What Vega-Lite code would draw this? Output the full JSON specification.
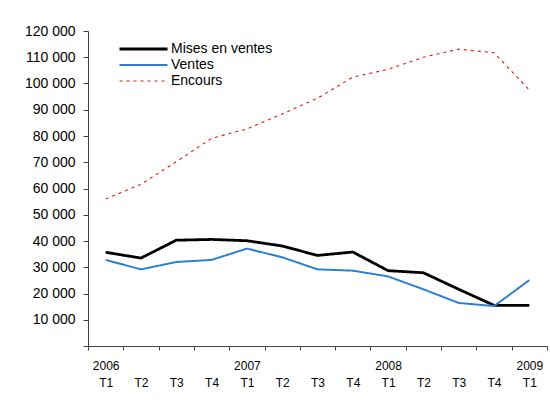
{
  "$schema": "https://vega.github.io/schema/vega-lite/v6.json",
  "width": 459,
  "height": 315,
  "autosize": {"type": "none"},
  "padding": {"left": 88, "top": 31, "right": 3, "bottom": 66},
  "background": "white",
  "config": {
    "view": {"stroke": null},
    "font": "Liberation Sans",
    "axis": {"grid": false, "domainColor": "#444", "tickColor": "#444", "labelColor": "black", "labelFont": "Liberation Sans"},
    "legend": {"labelFont": "Liberation Sans"}
  },
  "data": {
    "values": [
      {"q": "2006|T1", "serie": "Mises en ventes", "v": 35700},
      {"q": "2006|T2", "serie": "Mises en ventes", "v": 33500},
      {"q": "2006|T3", "serie": "Mises en ventes", "v": 40300},
      {"q": "2006|T4", "serie": "Mises en ventes", "v": 40600},
      {"q": "2007|T1", "serie": "Mises en ventes", "v": 40100},
      {"q": "2007|T2", "serie": "Mises en ventes", "v": 38100},
      {"q": "2007|T3", "serie": "Mises en ventes", "v": 34500},
      {"q": "2007|T4", "serie": "Mises en ventes", "v": 35800},
      {"q": "2008|T1", "serie": "Mises en ventes", "v": 28700},
      {"q": "2008|T2", "serie": "Mises en ventes", "v": 27900},
      {"q": "2008|T3", "serie": "Mises en ventes", "v": 21600},
      {"q": "2008|T4", "serie": "Mises en ventes", "v": 15500},
      {"q": "2009|T1", "serie": "Mises en ventes", "v": 15500},
      {"q": "2006|T1", "serie": "Ventes", "v": 32800},
      {"q": "2006|T2", "serie": "Ventes", "v": 29200},
      {"q": "2006|T3", "serie": "Ventes", "v": 32000},
      {"q": "2006|T4", "serie": "Ventes", "v": 32800},
      {"q": "2007|T1", "serie": "Ventes", "v": 37100},
      {"q": "2007|T2", "serie": "Ventes", "v": 33800},
      {"q": "2007|T3", "serie": "Ventes", "v": 29200},
      {"q": "2007|T4", "serie": "Ventes", "v": 28700},
      {"q": "2008|T1", "serie": "Ventes", "v": 26500},
      {"q": "2008|T2", "serie": "Ventes", "v": 21600},
      {"q": "2008|T3", "serie": "Ventes", "v": 16400},
      {"q": "2008|T4", "serie": "Ventes", "v": 15200},
      {"q": "2009|T1", "serie": "Ventes", "v": 25100},
      {"q": "2006|T1", "serie": "Encours", "v": 56000},
      {"q": "2006|T2", "serie": "Encours", "v": 61600},
      {"q": "2006|T3", "serie": "Encours", "v": 70200},
      {"q": "2006|T4", "serie": "Encours", "v": 79100},
      {"q": "2007|T1", "serie": "Encours", "v": 82700},
      {"q": "2007|T2", "serie": "Encours", "v": 88400},
      {"q": "2007|T3", "serie": "Encours", "v": 94400},
      {"q": "2007|T4", "serie": "Encours", "v": 102400},
      {"q": "2008|T1", "serie": "Encours", "v": 105400},
      {"q": "2008|T2", "serie": "Encours", "v": 110000},
      {"q": "2008|T3", "serie": "Encours", "v": 113100},
      {"q": "2008|T4", "serie": "Encours", "v": 111700},
      {"q": "2009|T1", "serie": "Encours", "v": 97500}
    ]
  },
  "mark": {"type": "line", "strokeJoin": "round"},
  "encoding": {
    "x": {
      "field": "q", "type": "ordinal", "sort": null,
      "scale": {"paddingInner": 0, "paddingOuter": 0},
      "axis": {
        "title": null, "labelAngle": 0, "tickBand": "extent", "tickSize": 4,
        "labelFontSize": 12, "labelPadding": 10, "labelLineHeight": 17,
        "labelExpr": "split(datum.value,'|')[1] == 'T1' ? split(datum.value,'|') : [' ', split(datum.value,'|')[1]]"
      }
    },
    "y": {
      "field": "v", "type": "quantitative",
      "scale": {"domain": [0, 120000], "nice": false},
      "axis": {
        "title": null, "values": [0, 10000, 20000, 30000, 40000, 50000, 60000, 70000, 80000, 90000, 100000, 110000, 120000],
        "tickSize": 5, "labelPadding": 8, "labelFontSize": 14,
        "labelExpr": "datum.value == 0 ? '' : replace(format(datum.value, ','), ',', ' ')"
      }
    },
    "color": {
      "field": "serie", "type": "nominal",
      "scale": {"domain": ["Mises en ventes", "Ventes", "Encours"], "range": ["#000000", "#2a7fd4", "#dd1a08"]},
      "legend": {
        "title": null, "orient": "none", "legendX": 30, "legendY": 10,
        "symbolType": "stroke", "symbolSize": 2304, "labelFontSize": 14, "labelOffset": 2,
        "rowPadding": 0, "clipHeight": 16, "symbolStrokeWidth": 2.4, "labelLimit": 300
      }
    },
    "strokeDash": {
      "field": "serie", "type": "nominal",
      "scale": {"domain": ["Mises en ventes", "Ventes", "Encours"], "range": [[1, 0], [1, 0], [3, 4]]},
      "legend": null
    },
    "strokeWidth": {
      "field": "serie", "type": "nominal",
      "scale": {"domain": ["Mises en ventes", "Ventes", "Encours"], "range": [2.8, 1.1, 2.5]},
      "legend": null
    }
  }
}
